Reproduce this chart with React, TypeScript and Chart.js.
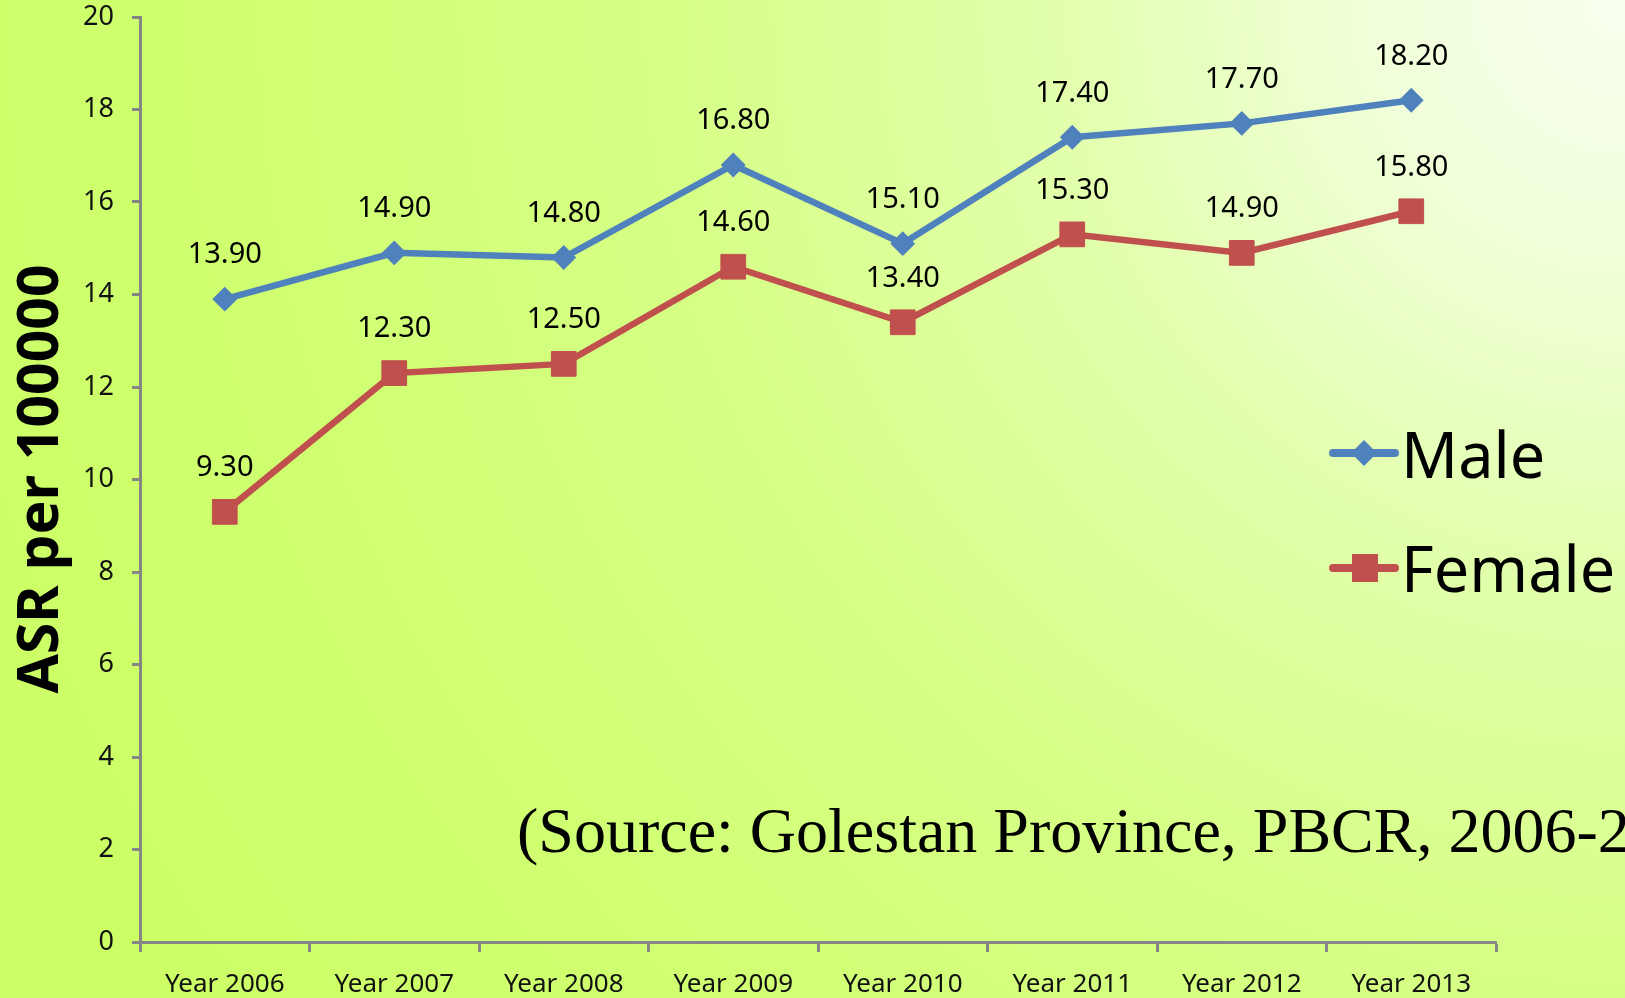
import React, { useEffect, useRef } from "react";
import { Chart, registerables } from "chart.js";

Chart.register(...registerables);

const categories = ["Year 2006", "Year 2007", "Year 2008", "Year 2009", "Year 2010", "Year 2011", "Year 2012", "Year 2013"];
const maleValues = [13.9, 14.9, 14.8, 16.8, 15.1, 17.4, 17.7, 18.2];
const femaleValues = [9.3, 12.3, 12.5, 14.6, 13.4, 15.3, 14.9, 15.8];
const seriesNames = ["Male", "Female"];
const yAxisTitle = "ASR per 100000";
const sourceText = "(Source: Golestan Province, PBCR, 2006-2013)";

const W = 1625;
const H = 998;
const SANS = "'Noto Sans', 'Open Sans', sans-serif";

const backgroundPlugin = {
  id: "bgGradient",
  beforeDraw(chart: any) {
    const { ctx, width, height } = chart;
    ctx.save();
    const g = ctx.createRadialGradient(width, 0, 0, width, 0, 1750);
    g.addColorStop(0, "#f8fff0");
    g.addColorStop(0.15, "#f0ffd8");
    g.addColorStop(0.33, "#e2ffac");
    g.addColorStop(0.55, "#d6ff86");
    g.addColorStop(0.8, "#cfff70");
    g.addColorStop(1, "#ccff66");
    ctx.fillStyle = g;
    ctx.fillRect(0, 0, width, height);
    ctx.restore();
  },
};

const labelsPlugin = {
  id: "valueLabels",
  afterDatasetsDraw(chart: any) {
    const { ctx } = chart;
    ctx.save();
    ctx.font = `29px ${SANS}`;
    ctx.fillStyle = "#000";
    ctx.textAlign = "center";
    ctx.textBaseline = "middle";
    chart.data.datasets.forEach((ds: any, i: number) => {
      const meta = chart.getDatasetMeta(i);
      meta.data.forEach((pt: any, j: number) => {
        ctx.fillText(Number(ds.data[j]).toFixed(2), pt.x, pt.y - 44);
      });
    });
    ctx.restore();
  },
};

const extrasPlugin = {
  id: "extras",
  afterDraw(chart: any) {
    const { ctx } = chart;
    ctx.save();
    ctx.translate(58, 479);
    ctx.rotate(-Math.PI / 2);
    ctx.font = `bold 57px ${SANS}`;
    ctx.fillStyle = "#000";
    ctx.textAlign = "center";
    ctx.textBaseline = "alphabetic";
    ctx.fillText(yAxisTitle, 0, 0);
    ctx.restore();

    ctx.save();
    ctx.font = `64px 'Liberation Serif', 'Times New Roman', serif`;
    ctx.fillStyle = "#000";
    ctx.textAlign = "left";
    ctx.textBaseline = "alphabetic";
    ctx.fillText(sourceText, 517, 852);
    ctx.restore();

    const items = [
      { y: 453, baseline: 478 },
      { y: 568, baseline: 592 },
    ];
    chart.data.datasets.forEach((ds: any, i: number) => {
      const it = items[i];
      ctx.save();
      ctx.strokeStyle = ds.borderColor;
      ctx.lineWidth = 8;
      ctx.lineCap = "round";
      ctx.beginPath();
      ctx.moveTo(1333, it.y);
      ctx.lineTo(1395, it.y);
      ctx.stroke();
      ctx.fillStyle = ds.pointBackgroundColor;
      ctx.beginPath();
      if (ds.pointStyle === "rectRot") {
        const r = 13;
        ctx.moveTo(1364 - r, it.y);
        ctx.lineTo(1364, it.y - r);
        ctx.lineTo(1364 + r, it.y);
        ctx.lineTo(1364, it.y + r);
        ctx.closePath();
      } else {
        ctx.rect(1352, it.y - 14, 26, 28);
      }
      ctx.fill();
      ctx.font = `63px ${SANS}`;
      ctx.fillStyle = "#000";
      ctx.textAlign = "left";
      ctx.textBaseline = "alphabetic";
      ctx.fillText(ds.label, 1401, it.baseline);
      ctx.restore();
    });
  },
};

export default function App() {
  const ref = useRef<HTMLCanvasElement | null>(null);

  useEffect(() => {
    if (!ref.current) return;
    const axisColor = "#868686";
    const chart = new Chart(ref.current, {
      type: "line",
      data: {
        labels: categories,
        datasets: [
          {
            label: seriesNames[0],
            data: maleValues,
            borderColor: "#4f81bd",
            backgroundColor: "#4f81bd",
            pointBackgroundColor: "#4f81bd",
            pointBorderColor: "#4f81bd",
            pointStyle: "rectRot",
            pointRadius: 11,
            pointBorderWidth: 2,
            borderWidth: 6.5,
            tension: 0,
          },
          {
            label: seriesNames[1],
            data: femaleValues,
            borderColor: "#c0504d",
            backgroundColor: "#c0504d",
            pointBackgroundColor: "#c0504d",
            pointBorderColor: "#c0504d",
            pointStyle: "rect",
            pointRadius: 17.5,
            pointBorderWidth: 1,
            borderWidth: 6.5,
            tension: 0,
          },
        ],
      },
      options: {
        responsive: true,
        maintainAspectRatio: false,
        animation: false,
        layout: { autoPadding: false, padding: { top: 17, right: 129, left: 0, bottom: 0 } },
        plugins: {
          legend: { display: false },
          tooltip: { enabled: false },
          title: { display: false },
        },
        scales: {
          x: {
            type: "category",
            offset: true,
            grid: {
              display: true,
              offset: true,
              drawOnChartArea: false,
              drawTicks: true,
              tickLength: 10,
              tickWidth: 3,
              tickColor: axisColor,
              color: axisColor,
            },
            border: { display: true, color: axisColor, width: 3 },
            ticks: {
              color: "#111",
              font: { family: SANS, size: 26 },
              padding: 17,
              maxRotation: 0,
              autoSkip: false,
            },
            afterFit(scale: any) {
              scale.height = H - 942;
              scale.paddingLeft = 0;
              scale.paddingRight = 0;
            },
          },
          y: {
            min: 0,
            max: 20,
            grid: {
              display: true,
              drawOnChartArea: false,
              drawTicks: true,
              tickLength: 8,
              tickWidth: 3,
              tickColor: axisColor,
              color: axisColor,
            },
            border: { display: true, color: axisColor, width: 3 },
            ticks: {
              stepSize: 2,
              color: "#111",
              font: { family: SANS, size: 27 },
              padding: 18,
            },
            afterFit(scale: any) {
              scale.width = 140;
              scale.paddingTop = 0;
              scale.paddingBottom = 0;
            },
          },
        },
      },
      plugins: [backgroundPlugin, labelsPlugin, extrasPlugin],
    } as any);
    return () => chart.destroy();
  }, []);

  return (
    <div style={{ position: "fixed", left: 0, top: 0, width: W, height: H, overflow: "hidden" }}>
      <canvas ref={ref} />
    </div>
  );
}
